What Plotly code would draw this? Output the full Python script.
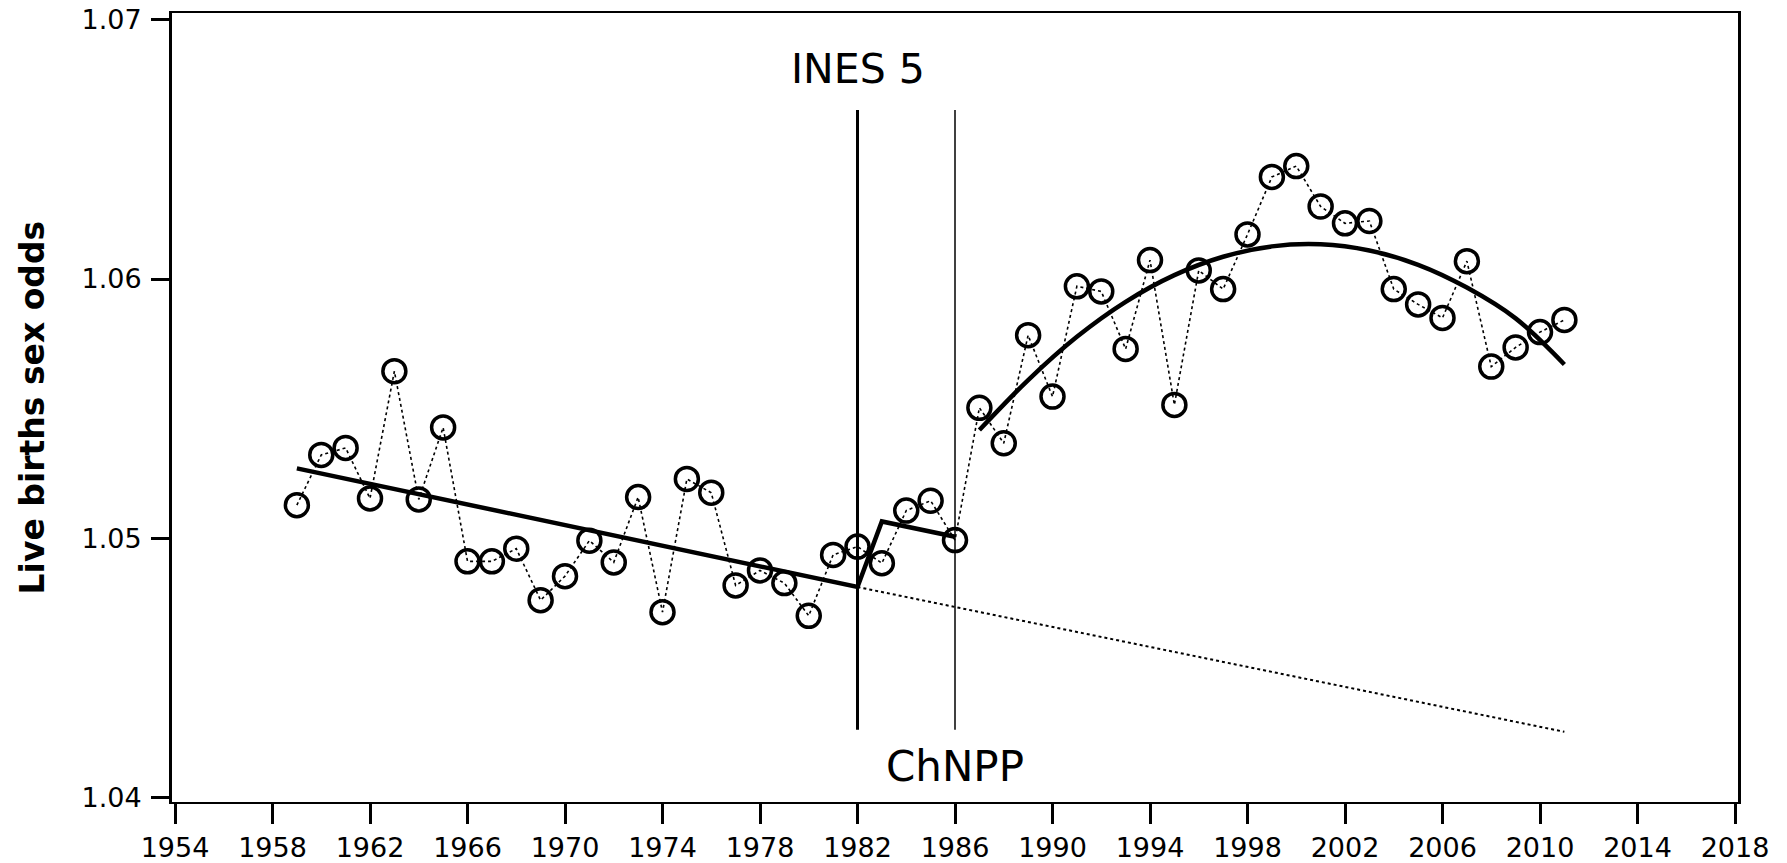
import plotly.graph_objects as go

# ---- data ----
years = list(range(1959, 2012))
sex_odds = [
    1.05127, 1.05321, 1.05348, 1.05153, 1.05644, 1.05149, 1.05427, 1.04910, 1.04910, 1.04959,
    1.04760, 1.04853, 1.04990, 1.04906, 1.05158, 1.04714, 1.05228, 1.05175, 1.04817, 1.04875,
    1.04826, 1.04700, 1.04935, 1.04967, 1.04903, 1.05106, 1.05144, 1.04992, 1.05503, 1.05366,
    1.05783, 1.05546, 1.05972, 1.05952, 1.05730, 1.06073, 1.05514, 1.06033, 1.05961, 1.06172,
    1.06394, 1.06436, 1.06280, 1.06215, 1.06224, 1.05961, 1.05902, 1.05850, 1.06069, 1.05662,
    1.05736, 1.05795, 1.05842,
]

# fitted linear trend with level shift (solid)
trend_years = [1959, 1982, 1983, 1986]
trend_values = [1.05269, 1.04811, 1.05064, 1.05005]

# extrapolated pre-accident trend (dotted)
extrap_years = [1982, 2011]
extrap_values = [1.04811, 1.04252]

# post-1986 curved fit
curve_years = [1987, 1989, 1991, 1993, 1995, 1997, 1999, 2001, 2003, 2005, 2007, 2009, 2011]
curve_values = [1.05417, 1.05610, 1.05777, 1.05912, 1.06015, 1.06086, 1.06126, 1.06134,
                1.06110, 1.06055, 1.05967, 1.05848, 1.05670]

# event markers
event_years = [1982, 1986]
event_labels = ["INES 5", "ChNPP"]
event_line_span = [1.0426, 1.06653]

x_ticks = list(range(1954, 2019, 4))
y_ticks = [1.04, 1.05, 1.06, 1.07]
y_tick_text = ["1.04", "1.05", "1.06", "1.07"]

FONT = "DejaVu Sans"

fig = go.Figure()

# vertical event lines
fig.add_trace(go.Scatter(x=[event_years[0]] * 2, y=event_line_span, mode="lines",
                         line=dict(color="black", width=3), showlegend=False, hoverinfo="skip"))
fig.add_trace(go.Scatter(x=[event_years[1]] * 2, y=event_line_span, mode="lines",
                         line=dict(color="black", width=1.5), showlegend=False, hoverinfo="skip"))

# extrapolated trend
fig.add_trace(go.Scatter(x=extrap_years, y=extrap_values, mode="lines",
                         line=dict(color="black", width=2, dash="dot"), showlegend=False))

# data: dotted connecting line + open circles
fig.add_trace(go.Scatter(x=years, y=sex_odds, mode="lines",
                         line=dict(color="black", width=1.6, dash="dot"), showlegend=False))
fig.add_trace(go.Scatter(x=years, y=sex_odds, mode="markers",
                         marker=dict(symbol="circle-open", size=23, color="black",
                                     line=dict(color="black", width=3.5)),
                         showlegend=False))

# fits
fig.add_trace(go.Scatter(x=trend_years, y=trend_values, mode="lines",
                         line=dict(color="black", width=4.5), showlegend=False))
fig.add_trace(go.Scatter(x=curve_years, y=curve_values, mode="lines",
                         line=dict(color="black", width=4.5, shape="spline"), showlegend=False))

# annotations
fig.add_annotation(x=event_years[0], y=1.06811, text=event_labels[0], showarrow=False,
                   xanchor="center", yanchor="middle",
                   font=dict(family=FONT, size=41, color="black"))
fig.add_annotation(x=event_years[1], y=1.04117, text=event_labels[1], showarrow=False,
                   xanchor="center", yanchor="middle",
                   font=dict(family=FONT, size=42, color="black"))
fig.add_annotation(xref="paper", yref="paper", x=-0.0888, y=0.5, text="<b>Live births sex odds</b>",
                   textangle=-90, showarrow=False, xanchor="center", yanchor="middle",
                   font=dict(family=FONT, size=33, color="black"))

fig.update_layout(
    width=1787, height=863,
    margin=dict(l=172, r=49, t=13, b=61, autoexpand=False),
    paper_bgcolor="white", plot_bgcolor="white",
    showlegend=False,
    font=dict(family=FONT, color="black"),
)
fig.update_xaxes(
    range=[1953.877, 2018.123], tickmode="array", tickvals=x_ticks,
    ticktext=[str(v) for v in x_ticks],
    ticks="outside", ticklen=20, tickwidth=3, tickcolor="black",
    showline=True, linewidth=2, linecolor="black", mirror=True,
    showgrid=False, zeroline=False, automargin=False,
    tickfont=dict(family=FONT, size=27, color="black"),
    ticklabelstandoff=1,
)
fig.update_yaxes(
    range=[1.03981, 1.07027], tickmode="array", tickvals=y_ticks, ticktext=y_tick_text,
    ticks="outside", ticklen=18, tickwidth=3, tickcolor="black",
    showline=True, linewidth=3, linecolor="black", mirror=True,
    showgrid=False, zeroline=False, automargin=False,
    tickfont=dict(family=FONT, size=27, color="black"),
    ticklabelstandoff=4,
)

fig.write_html("out.html")
